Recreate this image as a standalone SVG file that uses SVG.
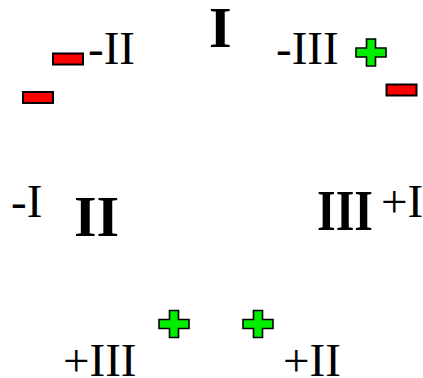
<svg xmlns="http://www.w3.org/2000/svg" width="423" height="378" viewBox="0 0 423 378">
  <style>
    .lbl { font-family: "Liberation Serif", "Times New Roman", serif; font-size: 47px; fill: #000; }
    .num { font-family: "Liberation Serif", "Times New Roman", serif; font-size: 58px; font-weight: bold; fill: #000; }
    .minus { fill: #ff0000; stroke: #000; stroke-width: 2; }
    .plus { fill: #00ee00; stroke: #000; stroke-width: 1.6; stroke-linejoin: miter; }
  </style>
  <defs>
    <rect id="minus-sign" class="minus" x="-15" y="-5.5" width="30" height="11"/>
    <path id="plus-sign" class="plus" d="M-4.5,-13.5 H4.5 V-4.5 H15 V4.5 H4.5 V13.5 H-4.5 V4.5 H-15 V-4.5 H-4.5 Z"/>
  </defs>
  <rect width="423" height="378" fill="#fff"/>

  <!-- large Roman numerals -->
  <g id="node-I"><text class="num" x="209" y="47">I</text></g>
  <g id="node-II"><text class="num" x="74" y="236">II</text></g>
  <g id="node-III"><text class="num" x="317" y="230" textLength="56" lengthAdjust="spacingAndGlyphs">III</text></g>

  <!-- signed labels -->
  <g id="label-mII"><text class="lbl" x="88" y="64">-II</text></g>
  <g id="label-mIII"><text class="lbl" x="276" y="64">-III</text></g>
  <g id="label-mI"><text class="lbl" x="11" y="217">-I</text></g>
  <g id="label-pI"><text class="lbl" x="381" y="217">+I</text></g>
  <g id="label-pIII"><text class="lbl" x="63" y="376">+III</text></g>
  <g id="label-pII"><text class="lbl" x="283" y="376">+II</text></g>

  <!-- charge markers -->
  <g id="markers">
    <use href="#minus-sign" x="68" y="59"/>
    <use href="#minus-sign" x="38" y="97.5"/>
    <use href="#minus-sign" x="401.5" y="90"/>
    <use href="#plus-sign" x="371" y="52.5"/>
    <use href="#plus-sign" x="174" y="324"/>
    <use href="#plus-sign" x="258" y="324"/>
  </g>
</svg>
